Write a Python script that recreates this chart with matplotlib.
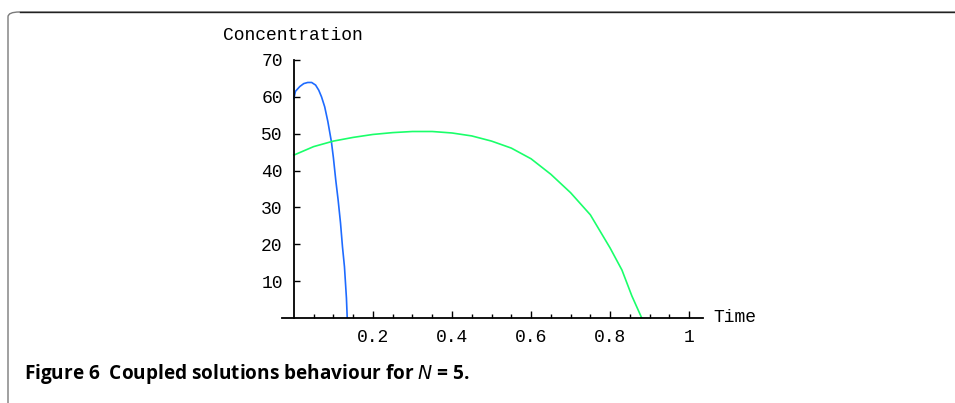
import numpy as np
import matplotlib.pyplot as plt
from matplotlib.patches import FancyBboxPatch

# valores
t_azul = [0, 0.004, 0.015, 0.025, 0.035, 0.045, 0.055, 0.063, 0.07, 0.078, 0.086,
          0.095, 0.1, 0.106, 0.112, 0.118, 0.123, 0.128, 0.133, 0.135]
c_azul = [59.5, 61.5, 62.8, 63.6, 63.9, 63.9, 63.2, 61.8, 60.0, 57.3, 53.3,
          47.8, 43.5, 37.4, 32.0, 25.8, 19.3, 13.9, 5.4, 0]

t_verde = [0, 0.05, 0.1, 0.15, 0.2, 0.25, 0.3, 0.35, 0.4, 0.45, 0.5, 0.55,
           0.6, 0.65, 0.7, 0.75, 0.8, 0.83, 0.855, 0.88]
c_verde = [44.2, 46.5, 48.0, 49.0, 49.8, 50.3, 50.6, 50.6, 50.2, 49.4, 48.0, 46.1,
           43.2, 39.0, 34.0, 28.0, 19.0, 13.0, 6.0, 0]

xticks = [0.2, 0.4, 0.6, 0.8, 1.0]
xlabels = ["0.2", "0.4", "0.6", "0.8", "1"]
yticks = [10, 20, 30, 40, 50, 60, 70]

W, H = 955, 403
fig = plt.figure(figsize=(W / 100, H / 100), dpi=100)

# marco redondeado (solo se ven el lado izquierdo y el de arriba)
marco = FancyBboxPatch((8 / W, -20 / H), 1.2, (H - 12 + 20) / H,
                       boxstyle="round,pad=0,rounding_size=0.012",
                       transform=fig.transFigure, facecolor="none",
                       edgecolor="#7a7a7a", linewidth=1.0)
fig.patches.append(marco)
fig.add_artist(plt.Line2D([20 / W, 1], [1 - 12 / H, 1 - 12 / H],
                          transform=fig.transFigure, color="#222222", lw=1.0))

# ejes
x0, x1 = 282, 703
y0, y1 = 318, 60
ax = fig.add_axes([x0 / W, (H - y0) / H, (x1 - x0) / W, (y0 - y1) / H])
ax.set_xlim(-0.03, 1.035)
ax.set_ylim(0, 70)

ax.plot(t_azul, c_azul, color="#1e6bff", lw=1.2)
ax.plot(t_verde, c_verde, color="#1aff6a", lw=1.2)

for s in ["top", "right"]:
    ax.spines[s].set_visible(False)
ax.spines["left"].set_position(("data", 0))
ax.spines["left"].set_bounds(0, 70)
ax.spines["left"].set_linewidth(1.3)
ax.spines["bottom"].set_linewidth(1.3)

fuente = "Liberation Mono"
tam = 13
ax.set_xticks(xticks)
ax.set_xticklabels(xlabels, family=fuente, fontsize=tam)
ax.set_xticks(np.arange(0.05, 1.01, 0.05), minor=True)
ax.set_yticks(yticks)
ax.set_yticklabels([str(v) for v in yticks], family=fuente, fontsize=tam)
ax.tick_params(axis="x", which="major", direction="in", length=5, width=1, pad=8)
ax.tick_params(axis="x", which="minor", direction="in", length=3, width=1)
ax.tick_params(axis="y", direction="in", length=4, width=1, pad=8)

ax.text(1.062, 0, "Time", family=fuente, fontsize=tam, ha="left", va="center")
fig.text(293 / W, 1 - 36 / H, "Concentration", family=fuente, fontsize=tam,
         ha="center", va="center")

fig.text(24 / W, 1 - 374 / H, "Figure 6  Coupled solutions behaviour for $\\mathit{N}$ = 5.",
         family="Open Sans", fontweight="bold", fontsize=13.7, ha="left", va="center")

fig.savefig("out.png", dpi=100)
